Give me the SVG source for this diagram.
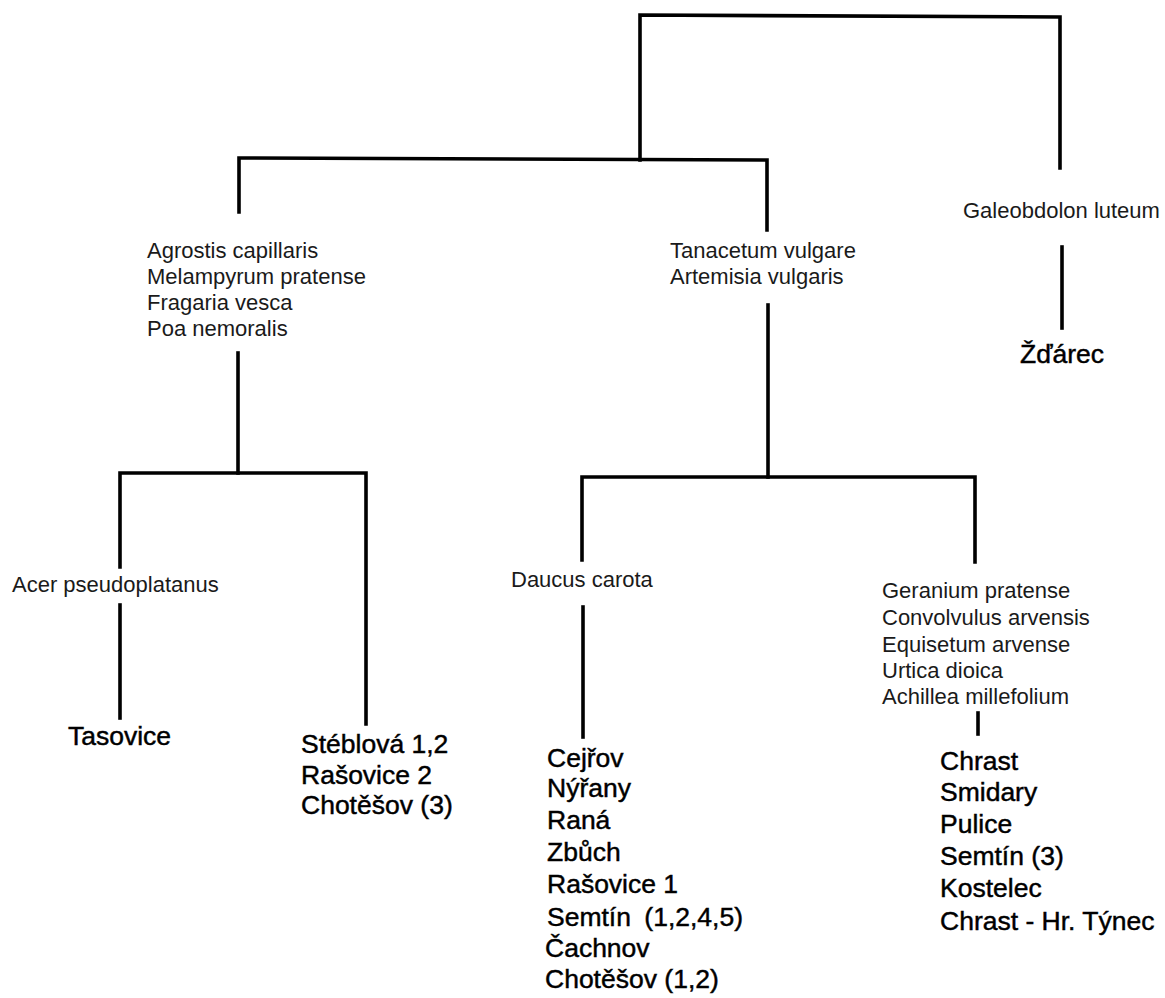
<svg xmlns="http://www.w3.org/2000/svg" width="1165" height="998" viewBox="0 0 1165 998">
<style>
.ln{stroke:#000;stroke-width:3.6;fill:none;stroke-linecap:square;stroke-linejoin:miter}
.sp{font-family:"Liberation Sans",Arial,sans-serif;font-size:22px;fill:#1a1a1a}
.pl{font-family:"Liberation Sans",Arial,sans-serif;font-size:26.5px;fill:#000;stroke:#000;stroke-width:0.45}
</style>
<rect width="1165" height="998" fill="#fff"/>
<g id="connectors">
<path class="ln" d="M640,160 V15 L1060,17 V168"/>
<path class="ln" d="M239,212 V158 L767,160 V230"/>
<path class="ln" d="M238,353 V473"/>
<path class="ln" d="M120,567 V473 H366 V724"/>
<path class="ln" d="M120,605 V718"/>
<path class="ln" d="M768,305 V477"/>
<path class="ln" d="M582,560 V477 H975 V562"/>
<path class="ln" d="M583,607 V737"/>
<path class="ln" d="M978,713 V734"/>
<path class="ln" d="M1062,247 V328"/>
</g>
<g id="node-agrostis">
<text class="sp" x="147" y="258">Agrostis capillaris</text>
<text class="sp" x="147" y="284">Melampyrum pratense</text>
<text class="sp" x="147" y="310">Fragaria vesca</text>
<text class="sp" x="147" y="336">Poa nemoralis</text>
</g>
<g id="node-tanacetum">
<text class="sp" x="670" y="258">Tanacetum vulgare</text>
<text class="sp" x="670" y="284">Artemisia vulgaris</text>
</g>
<g id="node-galeobdolon">
<text class="sp" x="963" y="218">Galeobdolon luteum</text>
</g>
<g id="node-zdarec">
<text class="pl" x="1020" y="363">Žďárec</text>
</g>
<g id="node-acer">
<text class="sp" x="12" y="592">Acer pseudoplatanus</text>
</g>
<g id="node-tasovice">
<text class="pl" x="68" y="745">Tasovice</text>
</g>
<g id="node-steblova">
<text class="pl" x="301" y="753">Stéblová 1,2</text>
<text class="pl" x="301" y="784">Rašovice 2</text>
<text class="pl" x="301" y="814">Chotěšov (3)</text>
</g>
<g id="node-daucus">
<text class="sp" x="511" y="587">Daucus carota</text>
</g>
<g id="node-cejrov">
<text class="pl" x="547" y="767">Cejřov</text>
<text class="pl" x="547" y="797">Nýřany</text>
<text class="pl" x="547" y="829">Raná</text>
<text class="pl" x="547" y="861">Zbůch</text>
<text class="pl" x="547" y="893">Rašovice 1</text>
<text class="pl" x="547" y="926">Semtín <tspan dx="6">(1,2,4,5)</tspan></text>
<text class="pl" x="545" y="957">Čachnov</text>
<text class="pl" x="545" y="988">Chotěšov (1,2)</text>
</g>
<g id="node-geranium">
<text class="sp" x="882" y="598">Geranium pratense</text>
<text class="sp" x="882" y="625">Convolvulus arvensis</text>
<text class="sp" x="882" y="652">Equisetum arvense</text>
<text class="sp" x="882" y="678">Urtica dioica</text>
<text class="sp" x="882" y="704">Achillea millefolium</text>
</g>
<g id="node-chrast">
<text class="pl" x="940" y="770">Chrast</text>
<text class="pl" x="940" y="801">Smidary</text>
<text class="pl" x="940" y="833">Pulice</text>
<text class="pl" x="940" y="865">Semtín (3)</text>
<text class="pl" x="940" y="897">Kostelec</text>
<text class="pl" x="940" y="930">Chrast - Hr. Týnec</text>
</g>
</svg>
